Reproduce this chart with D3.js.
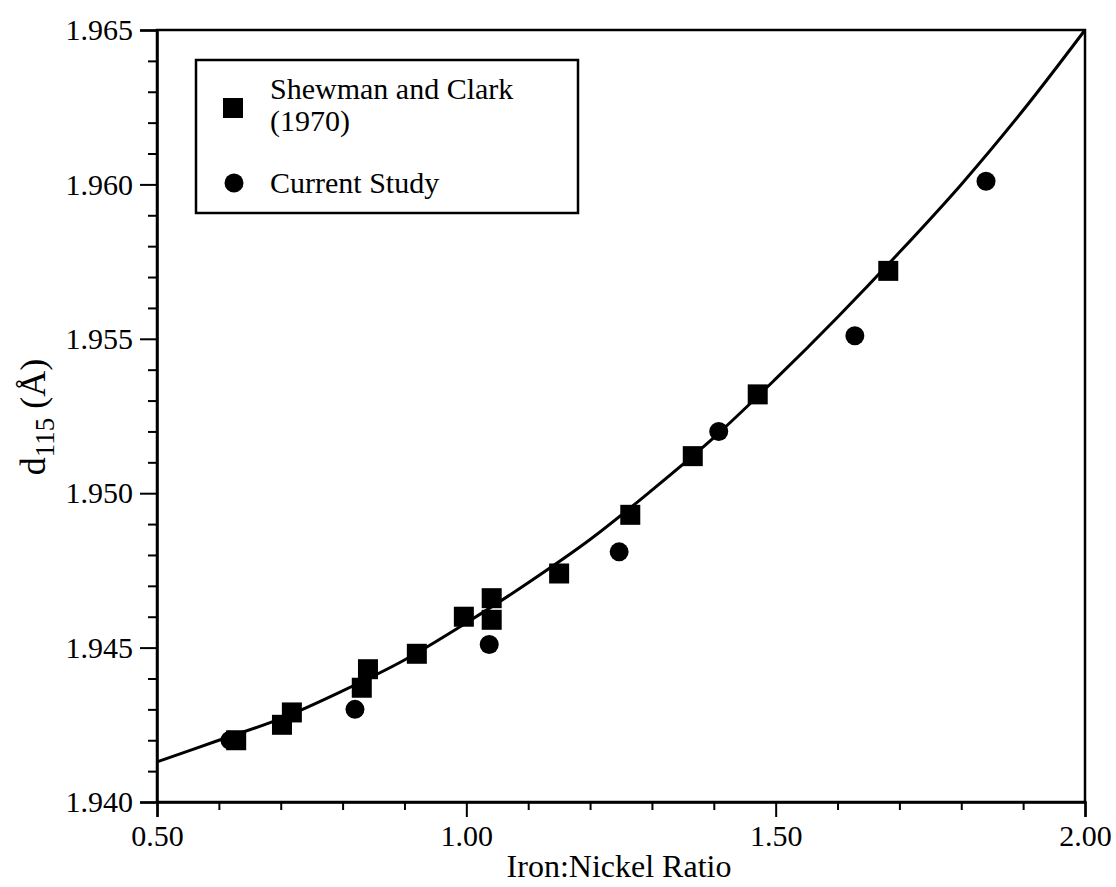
<!DOCTYPE html>
<html>
<head>
<meta charset="utf-8">
<script src="https://cdn.jsdelivr.net/npm/d3@7"></script>
<style>
  html, body { margin: 0; padding: 0; background: #fff; }
  svg { display: block; }
  text { font-family: "Liberation Serif", "Times New Roman", serif; fill: #000; }
</style>
</head>
<body>
<svg id="chart" width="1116" height="887"></svg>
<script>
// Shewman and Clark (1970): iron:nickel ratio and d115 spacing
const shewmanRatio = [0.628, 0.702, 0.718, 0.831, 0.841, 0.920, 0.996, 1.041, 1.041, 1.150, 1.265, 1.366, 1.471, 1.682];
const shewmanD115  = [1.9420, 1.9425, 1.9429, 1.9437, 1.9443, 1.9448, 1.9460, 1.9466, 1.9459, 1.9474, 1.9493, 1.9512, 1.9532, 1.9572];

// Current study
const currentRatio = [0.618, 0.820, 1.037, 1.247, 1.408, 1.628, 1.840];
const currentD115  = [1.9420, 1.9430, 1.9451, 1.9481, 1.9520, 1.9551, 1.9601];

// Fitted calibration curve, sampled along the ratio axis
const fitRatio = [0.5, 0.6, 0.7, 0.8, 0.9, 1.0, 1.1, 1.2, 1.3, 1.4, 1.5, 1.6, 1.7, 1.8, 1.9, 2.0];
const fitD115  = [1.9413, 1.9420, 1.9427, 1.9436, 1.9446, 1.9458, 1.9471, 1.9485, 1.9501, 1.9518, 1.9537, 1.9557, 1.9578, 1.9600, 1.9624, 1.9650];

// Axis ticks
const xMajorTicks = [0.5, 1.0, 1.5, 2.0];
const xMinorTicks = [0.6, 0.7, 0.8, 0.9, 1.1, 1.2, 1.3, 1.4, 1.6, 1.7, 1.8, 1.9];
const yMajorTicks = [1.940, 1.945, 1.950, 1.955, 1.960, 1.965];
const yMinorTicks = [1.941, 1.942, 1.943, 1.944, 1.946, 1.947, 1.948, 1.949,
                     1.951, 1.952, 1.953, 1.954, 1.956, 1.957, 1.958, 1.959,
                     1.961, 1.962, 1.963, 1.964];

const legendLabels = [["Shewman and Clark", "(1970)"], ["Current Study"]];

const svg = d3.select("#chart");
const plotLeft = 157, plotRight = 1085, plotTop = 30, plotBottom = 802;

const x = d3.scaleLinear().domain([0.5, 2.0]).range([plotLeft, plotRight]);
const y = d3.scaleLinear().domain([1.940, 1.965]).range([plotBottom, plotTop]);

// Frame around the plotting area
svg.append("rect")
  .attr("x", plotLeft).attr("y", plotTop)
  .attr("width", plotRight - plotLeft).attr("height", plotBottom - plotTop)
  .attr("fill", "none").attr("stroke", "#000").attr("stroke-width", 2.5);

// X axis: major ticks with labels, then minor ticks
const xAxis = svg.append("g").attr("transform", `translate(0,${plotBottom})`)
  .call(d3.axisBottom(x).tickValues(xMajorTicks).tickFormat(d3.format(".2f"))
        .tickSize(15).tickPadding(8));
xAxis.append("g").call(d3.axisBottom(x).tickValues(xMinorTicks).tickFormat("").tickSize(8))
  .select(".domain").remove();

// Y axis
const yAxis = svg.append("g").attr("transform", `translate(${plotLeft},0)`)
  .call(d3.axisLeft(y).tickValues(yMajorTicks).tickFormat(d3.format(".3f"))
        .tickSize(17).tickPadding(7));
yAxis.append("g").call(d3.axisLeft(y).tickValues(yMinorTicks).tickFormat("").tickSize(9))
  .select(".domain").remove();

svg.selectAll(".domain").attr("stroke-width", 2.5).attr("stroke", "#000");
svg.selectAll(".tick line").attr("stroke-width", 2).attr("stroke", "#000");
xAxis.selectAll(".tick text").attr("font-size", 30).attr("font-family", "Liberation Serif");
yAxis.selectAll(".tick text").attr("font-size", 30).attr("font-family", "Liberation Serif");

// Axis titles
svg.append("text")
  .attr("x", 619).attr("y", 877)
  .attr("text-anchor", "middle").attr("font-size", 32)
  .text("Iron:Nickel Ratio");

const yTitle = svg.append("text")
  .attr("transform", `translate(45,417) rotate(-90)`)
  .attr("text-anchor", "middle").attr("font-size", 36);
yTitle.append("tspan").text("d");
yTitle.append("tspan").attr("font-size", 27).attr("dy", 9).text("115");
yTitle.append("tspan").attr("dy", -9).text(" (Å)");

// Fitted curve
const fitPoints = fitRatio.map((r, i) => [r, fitD115[i]]);
svg.append("path")
  .datum(fitPoints)
  .attr("fill", "none").attr("stroke", "#000").attr("stroke-width", 3)
  .attr("d", d3.line().x(d => x(d[0])).y(d => y(d[1])).curve(d3.curveCatmullRom));

// Data markers
const sq = 20;
svg.append("g").selectAll("circle")
  .data(currentRatio.map((r, i) => [r, currentD115[i]]))
  .join("circle")
  .attr("cx", d => x(d[0])).attr("cy", d => y(d[1])).attr("r", 9.5)
  .attr("fill", "#000");

svg.append("g").selectAll("rect")
  .data(shewmanRatio.map((r, i) => [r, shewmanD115[i]]))
  .join("rect")
  .attr("x", d => x(d[0]) - sq / 2).attr("y", d => y(d[1]) - sq / 2)
  .attr("width", sq).attr("height", sq)
  .attr("fill", "#000");

// Legend
const legend = svg.append("g");
legend.append("rect")
  .attr("x", 196).attr("y", 60).attr("width", 382).attr("height", 153)
  .attr("fill", "#fff").attr("stroke", "#000").attr("stroke-width", 2.5);
legend.append("rect")
  .attr("x", 233 - sq / 2).attr("y", 108 - sq / 2).attr("width", sq).attr("height", sq)
  .attr("fill", "#000");
legend.append("circle").attr("cx", 234).attr("cy", 183).attr("r", 9.5).attr("fill", "#000");
legend.append("text").attr("x", 270).attr("y", 99).attr("font-size", 30).text(legendLabels[0][0]);
legend.append("text").attr("x", 270).attr("y", 131).attr("font-size", 30).text(legendLabels[0][1]);
legend.append("text").attr("x", 270).attr("y", 193).attr("font-size", 30).text(legendLabels[1][0]);
</script>
</body>
</html>
